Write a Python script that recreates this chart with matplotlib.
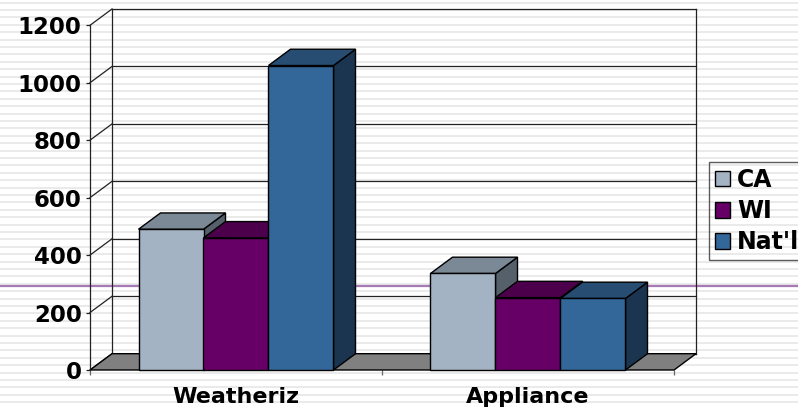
import matplotlib
matplotlib.use("Agg")
import matplotlib.pyplot as plt
import numpy as np
from matplotlib.patches import Polygon, Rectangle, Patch

# data
categories = ["Weatheriz", "Appliance"]
series = ["CA", "WI", "Nat'l"]
ca = [490, 336]
wi = [460, 252]
natl = [1060, 249]
values = [ca, wi, natl]

front_cols = ["#A3B3C3", "#660066", "#336699"]
top_cols = ["#7B8896", "#4C004C", "#274D73"]
side_cols = ["#56606B", "#330033", "#1B3550"]

W, H = 798, 407
fig = plt.figure(figsize=(W / 100, H / 100), dpi=100)

# striped background
bg = fig.add_axes([0, 0, 1, 1], zorder=0)
bg.set_xlim(0, W)
bg.set_ylim(H, 0)
bg.axis("off")
bg.hlines(np.arange(2.5, H, 7.4), 0, W, color="#EAEAEA", lw=1.4)
bg.axhline(286, color="#A57AB5", lw=1.6)

# main axes = front plane of the 3d box
ax = fig.add_axes([90 / W, 37 / H, 584 / W, 344.7 / H], zorder=1)
ax.patch.set_visible(False)
ax.set_xlim(0, 2)
ax.set_ylim(0, 1200)
dx, dy = 22 / 584 * 2, 16.3 / 344.7 * 1200
ticks = np.arange(0, 1201, 200)

for v in ticks:
    ax.plot([dx, 2 + dx], [v + dy, v + dy], color="#222222", lw=0.9, clip_on=False, zorder=1)
    ax.plot([0, dx], [v, v + dy], color="#222222", lw=0.9, clip_on=False, zorder=1)
ax.plot([dx, dx], [dy, 1200 + dy], color="#222222", lw=0.9, clip_on=False, zorder=1)
ax.plot([2 + dx, 2 + dx], [dy, 1200 + dy], color="#222222", lw=0.9, clip_on=False, zorder=1)

floor = Polygon([(0, 0), (dx, dy), (2 + dx, dy), (2, 0)], closed=True,
                facecolor="#808080", edgecolor="black", lw=1, clip_on=False, zorder=2)
ax.add_patch(floor)

bw = 65 / 584 * 2
z = 3
for c in range(len(categories)):
    center = c + 0.5
    for i in range(len(series)):
        v = values[i][c]
        x0 = center - 1.5 * bw + i * bw
        x1 = x0 + bw
        ax.add_patch(Polygon([(x1, 0), (x1 + dx, dy), (x1 + dx, v + dy), (x1, v)],
                             facecolor=side_cols[i], edgecolor="black", lw=1, clip_on=False, zorder=z))
        ax.add_patch(Polygon([(x0, v), (x0 + dx, v + dy), (x1 + dx, v + dy), (x1, v)],
                             facecolor=top_cols[i], edgecolor="black", lw=1, clip_on=False, zorder=z))
        ax.add_patch(Rectangle((x0, 0), bw, v, facecolor=front_cols[i],
                               edgecolor="black", lw=1, clip_on=False, zorder=z + 0.5))
        z += 1

for s in ["top", "right", "bottom"]:
    ax.spines[s].set_visible(False)
ax.spines["left"].set_color("#222222")
ax.spines["left"].set_linewidth(0.9)

ax.set_yticks(ticks)
ax.set_yticklabels([str(t) for t in ticks], fontsize=16.5, fontweight="bold")
ax.tick_params(axis="y", length=3, width=0.9, pad=3, color="#222222")

ax.set_xticks([0, 1, 2])
ax.set_xticklabels([])
ax.tick_params(axis="x", which="major", length=3.5, width=0.9, color="#666666")
ax.set_xticks([0.5, 1.5], minor=True)
ax.set_xticklabels(categories, minor=True, fontsize=16, fontweight="bold")
ax.tick_params(axis="x", which="minor", length=0, pad=12)

# legend runs off the right edge, as in the original slide
handles = [Patch(facecolor=front_cols[i], edgecolor="black", lw=1) for i in range(3)]
leg = fig.legend(handles, series, loc="upper left", bbox_to_anchor=(709 / W, 1 - 162 / H),
                 borderaxespad=0, fancybox=False, facecolor="none", edgecolor="#333333",
                 prop={"size": 17, "weight": "bold"}, handlelength=0.65, handleheight=0.65,
                 handletextpad=0.3, labelspacing=0.3, borderpad=0.25)
leg.get_frame().set_linewidth(1)

fig.savefig("out.png", dpi=100)
